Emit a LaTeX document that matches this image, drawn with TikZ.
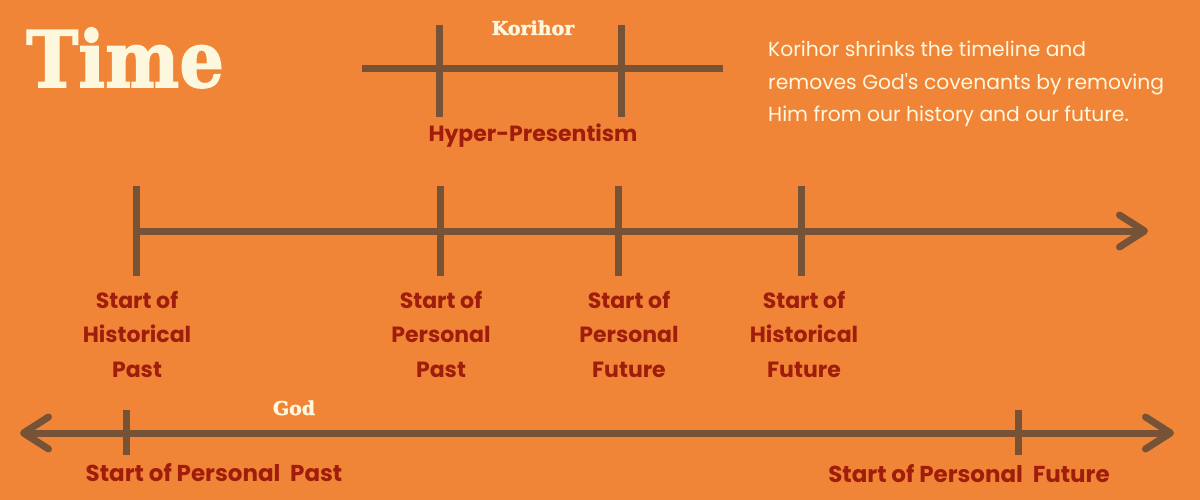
\documentclass[tikz,border=0pt]{standalone}
\usepackage{fontspec}
\setmainfont{Poppins}
\newfontfamily\slabfont{DejaVu Serif}[BoldFeatures={FakeBold=2}]
\usetikzlibrary{arrows.meta}

\definecolor{bgorange}{HTML}{F08537}
\definecolor{linebrown}{HTML}{765236}
\definecolor{labelred}{HTML}{A11D0B}
\definecolor{cream}{HTML}{FCF7DD}
\newcommand{\straightquote}{\XeTeXglyph\XeTeXcharglyph"27\relax}

\begin{document}
\begin{tikzpicture}[x=1pt,y=-1pt,
    >={Straight Barb[length=25pt,width=32pt,round]},
    timeline/.style={draw=linebrown,line width=7pt}]

      \useasboundingbox (0,0) rectangle (1200,500);
      \fill[bgorange] (0,0) rectangle (1200,500);

      % coordinates of the three lines and their ticks
      \coordinate (kl) at (362,69);
      \coordinate (kr) at (723,69);
      \coordinate (k1t) at (439,25);
      \coordinate (k1b) at (439,117);
      \coordinate (k2t) at (621,25);
      \coordinate (k2b) at (621,117);

      \coordinate (ml) at (136,231);
      \coordinate (mr) at (1148,231);
      \coordinate (m1t) at (136,186);
      \coordinate (m1b) at (136,276);
      \coordinate (m2t) at (440,186);
      \coordinate (m2b) at (440,276);
      \coordinate (m3t) at (618,186);
      \coordinate (m3b) at (618,276);
      \coordinate (m4t) at (801,186);
      \coordinate (m4b) at (801,276);

      \coordinate (gl) at (20,433);
      \coordinate (gr) at (1174,433);
      \coordinate (g1t) at (126,410);
      \coordinate (g1b) at (126,455);
      \coordinate (g2t) at (1018,410);
      \coordinate (g2b) at (1018,455);

      \begin{scope}[every edge/.style={timeline}]
        \path (kl) edge (kr);
        \path (k1t) edge (k1b);
        \path (k2t) edge (k2b);

        \path (ml) edge[->] (mr);
        \path (m1t) edge (m1b);
        \path (m2t) edge (m2b);
        \path (m3t) edge (m3b);
        \path (m4t) edge (m4b);

        \path (gl) edge[<->] (gr);
        \path (g1t) edge (g1b);
        \path (g2t) edge (g2b);
      \end{scope}

      % titles in cream
      \begin{scope}[every node/.style={text=cream,inner sep=0pt}]
        \node[anchor=base west,xscale=0.9,font=\slabfont\bfseries\fontsize{78}{78}\selectfont]
          (title) at (26,87) {Time};
        \node[anchor=base,font=\slabfont\bfseries\fontsize{19}{19}\selectfont]
          (korihor) at (533,35) {Korihor};
        \node[anchor=base,font=\slabfont\bfseries\fontsize{19}{19}\selectfont]
          (god) at (294,415) {God};
        \node[anchor=base west,align=left,font=\fontsize{20.3}{32.5}\selectfont]
          (note) at (768,122) {Korihor shrinks the timeline and\\
          removes God\straightquote s covenants by removing\\
          Him from our history and our future.};
      \end{scope}

      % labels in red
      \begin{scope}[every node/.style={text=labelred,inner sep=0pt,align=center,
          font=\bfseries\fontsize{22}{34.5}\selectfont}]
        \node[anchor=base] (hyper) at (533,142) {Hyper-Presentism};
        \node[anchor=base] (histpast) at (137,377) {Start of\\Historical\\Past};
        \node[anchor=base] (perspast) at (441,377) {Start of\\Personal\\Past};
        \node[anchor=base] (persfut) at (629,377) {Start of\\Personal\\Future};
        \node[anchor=base] (histfut) at (804,377) {Start of\\Historical\\Future};
        \node[anchor=base,font=\bfseries\fontsize{23}{23}\selectfont]
          (godpast) at (214,481) {Start of Personal\ \ Past};
        \node[anchor=base,font=\bfseries\fontsize{23}{23}\selectfont]
          (godfut) at (969,482) {Start of Personal\ \ Future};
      \end{scope}

    \end{tikzpicture}
\end{document}
